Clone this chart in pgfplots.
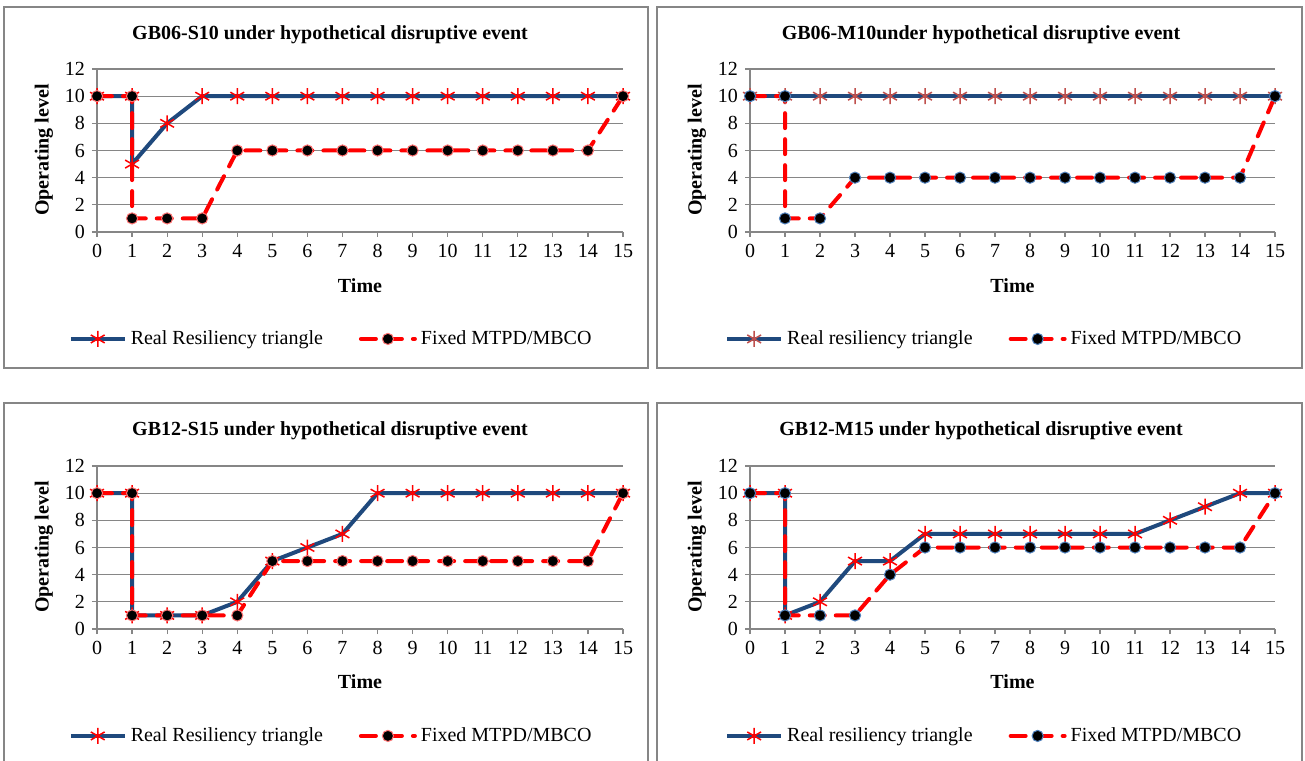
\documentclass[border=0pt]{standalone}
\usepackage{fontspec}
\setmainfont{Liberation Serif}
\usepackage{pgfplots}
\pgfplotsset{compat=1.18}
\definecolor{rblue}{RGB}{31,73,125}
\definecolor{rred}{RGB}{255,0,0}
\definecolor{mred}{RGB}{192,80,77}
\definecolor{gridg}{RGB}{134,134,134}
\definecolor{edgeblue}{RGB}{79,129,189}
\pgfplotsset{
 panel/.style={
  scale only axis, width=263pt, height=81.5pt, anchor=south west,
  xmin=0,xmax=15,ymin=0,ymax=12,
  xtick={0,...,15}, ytick={0,2,...,12},
  axis lines*=left, axis line style={gridg, line width=0.6pt, -},
  ymajorgrids, major grid style={gridg, line width=0.6pt},
  tick align=outside, major tick length=2.5pt, tick style={gridg, line width=0.6pt},
  tick label style={font=\fontsize{10}{12}\selectfont},
  /pgf/number format/assume math mode=true,
  clip=false,
  legend columns=2,
  legend style={draw=none, fill=none, font=\fontsize{10}{12}\selectfont, anchor=center,
    at={(axis description cs:0.447,-0.656)},
    /tikz/every even column/.append style={column sep=16pt}},
  legend image code/.code={\draw[mark repeat=2,mark phase=2] plot coordinates {(0pt,0pt) (13.5pt,0pt) (27pt,0pt)};},
 },
 real/.style={rblue, line width=2pt, mark=asterisk, mark size=4pt, mark options={rred, line width=0.75pt, solid}},
 realm/.style={rblue, line width=2pt, mark=asterisk, mark size=4pt, mark options={mred, line width=0.75pt, solid}},
 fixeds/.style={rred, line width=2pt, dash pattern=on 7.5pt off 5.5pt, line cap=round, mark=*, mark size=2.8pt, mark options={solid, fill=black, draw=rred!55, line width=0.5pt}},
 fixedm/.style={rred, line width=2pt, dash pattern=on 7.5pt off 5.5pt, line cap=round, mark=*, mark size=2.8pt, mark options={solid, fill=black, draw=edgeblue, line width=0.5pt}},
}
\begin{document}
\begin{tikzpicture}
\useasboundingbox (0,0) rectangle (652.5pt,380pt);
\fill[white] (0,0) rectangle (652.5pt,380pt);
% panel boxes
\draw[gridg, line width=0.6pt] (2pt,196pt) rectangle (324pt,376.5pt);
\draw[gridg, line width=0.6pt] (328.5pt,196pt) rectangle (651pt,376.5pt);
\draw[gridg, line width=0.6pt] (2pt,-5pt) rectangle (324pt,178.5pt);
\draw[gridg, line width=0.6pt] (328.5pt,-5pt) rectangle (651pt,178.5pt);

% TL
\begin{axis}[panel, at={(48.5pt,264pt)}]
\addplot[real] coordinates {(0,10) (1,10) (1,5) (2,8) (3,10) (4,10) (5,10) (6,10) (7,10) (8,10) (9,10) (10,10) (11,10) (12,10) (13,10) (14,10) (15,10)};
\addlegendentry{Real Resiliency triangle}
\addplot[fixeds] coordinates {(0,10) (1,10) (1,1) (2,1) (3,1) (4,6) (5,6) (6,6) (7,6) (8,6) (9,6) (10,6) (11,6) (12,6) (13,6) (14,6) (15,10)};
\addlegendentry{Fixed MTPD/MBCO}
\end{axis}

% TR
\begin{axis}[panel, at={(375pt,264pt)}, width=262.5pt, legend style={at={(axis description cs:0.448,-0.656)}}]
\addplot[realm] coordinates {(0,10) (1,10) (2,10) (3,10) (4,10) (5,10) (6,10) (7,10) (8,10) (9,10) (10,10) (11,10) (12,10) (13,10) (14,10) (15,10)};
\addlegendentry{Real resiliency triangle}
\addplot[fixedm] coordinates {(0,10) (1,10) (1,1) (2,1) (3,4) (4,4) (5,4) (6,4) (7,4) (8,4) (9,4) (10,4) (11,4) (12,4) (13,4) (14,4) (15,10)};
\addlegendentry{Fixed MTPD/MBCO}
\end{axis}

% BL
\begin{axis}[panel, at={(48.5pt,65.5pt)}]
\addplot[real] coordinates {(0,10) (1,10) (1,1) (2,1) (3,1) (4,2) (5,5) (6,6) (7,7) (8,10) (9,10) (10,10) (11,10) (12,10) (13,10) (14,10) (15,10)};
\addlegendentry{Real Resiliency triangle}
\addplot[fixeds] coordinates {(0,10) (1,10) (1,1) (2,1) (3,1) (4,1) (5,5) (6,5) (7,5) (8,5) (9,5) (10,5) (11,5) (12,5) (13,5) (14,5) (15,10)};
\addlegendentry{Fixed MTPD/MBCO}
\end{axis}

% BR
\begin{axis}[panel, at={(375pt,65.5pt)}, width=262.5pt, legend style={at={(axis description cs:0.448,-0.656)}}]
\addplot[real] coordinates {(0,10) (1,10) (1,1) (2,2) (3,5) (4,5) (5,7) (6,7) (7,7) (8,7) (9,7) (10,7) (11,7) (12,8) (13,9) (14,10) (15,10)};
\addlegendentry{Real resiliency triangle}
\addplot[fixedm] coordinates {(0,10) (1,10) (1,1) (2,1) (3,1) (4,4) (5,6) (6,6) (7,6) (8,6) (9,6) (10,6) (11,6) (12,6) (13,6) (14,6) (15,10)};
\addlegendentry{Fixed MTPD/MBCO}
\end{axis}

% titles and labels
\begin{scope}[every node/.style={font=\bfseries\fontsize{10}{12}\selectfont, inner sep=0pt}]
\node at (165pt,362.5pt) {GB06-S10 under hypothetical disruptive event};
\node at (490.5pt,362.5pt) {GB06-M10under hypothetical disruptive event};
\node at (165pt,164.5pt) {GB12-S15 under hypothetical disruptive event};
\node at (490.5pt,164.5pt) {GB12-M15 under hypothetical disruptive event};
\node[rotate=90] at (22pt,305pt) {Operating level};
\node[rotate=90] at (348.5pt,305pt) {Operating level};
\node[rotate=90] at (22pt,106.5pt) {Operating level};
\node[rotate=90] at (348.5pt,106.5pt) {Operating level};
\node at (180pt,237pt) {Time};
\node at (506.25pt,237pt) {Time};
\node at (180pt,39pt) {Time};
\node at (506.25pt,39pt) {Time};
\end{scope}
\end{tikzpicture}
\end{document}
